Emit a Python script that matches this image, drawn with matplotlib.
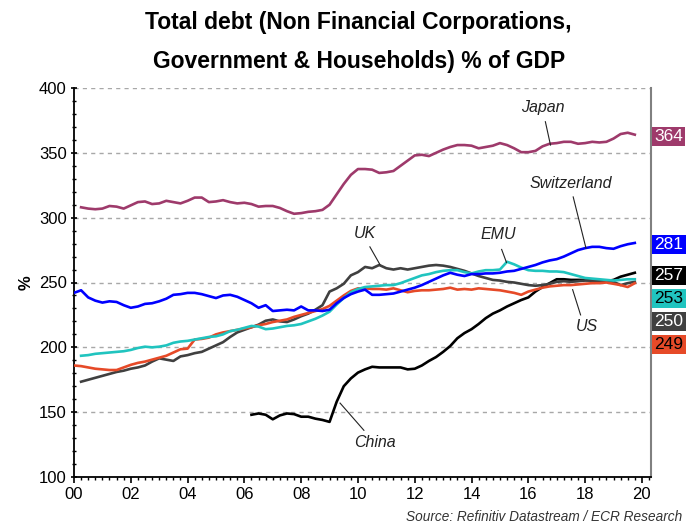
import numpy as np
import pandas as pd
import matplotlib
matplotlib.use('Agg')
import matplotlib.pyplot as plt
from matplotlib.ticker import MultipleLocator
import matplotlib.transforms as mtransforms

plt.rcParams['font.family'] = ['Liberation Sans', 'DejaVu Sans']

# quarterly debt % of GDP
japan_start = '2000Q2'
japan = [308, 307, 306.5, 307, 309, 308.5, 307, 309.5, 312, 312.5, 310.5, 311, 313, 312, 311, 313,
         315.5, 315.5, 312, 312.5, 313.5, 312, 311, 311.5, 310.5, 308.5, 309, 309, 307.5, 305, 303, 303.5,
         304.5, 305, 306, 310, 318, 326, 333, 337.5, 337.5, 337, 334.5, 335, 336, 340, 344, 348,
         348.5, 347.5, 350, 352.5, 354.5, 356, 356, 355.5, 353.5, 354.5, 355.5, 357.5, 356, 353.5, 350.5, 350.5,
         351.5, 355, 357, 357.5, 358.5, 358.5, 357, 357.5, 358.5, 358, 358.5, 361, 364.5, 365.5, 364]

swiss_start = '2000Q1'
swiss = [242, 244, 238.5, 236, 234.5, 235.5, 235, 232.5, 230.5, 231.5, 233.5, 234, 235.5, 237.5, 240.5, 241,
         242, 242, 241, 239.5, 238, 240, 240.5, 239, 236.5, 234, 230.5, 232.5, 228, 228.5, 229, 228.5,
         231.5, 228.5, 228.5, 228, 229, 234, 238, 241, 243, 244.5, 240.5, 240.5, 241, 241.5, 243, 244.5,
         246, 248, 250.5, 253, 255.5, 257.5, 256, 255, 256.5, 256.5, 257, 257, 257.5, 258.5, 259, 260.5,
         262, 263.5, 265.5, 267, 268, 270, 272.5, 275, 276.5, 277.5, 277.5, 276.5, 276, 278, 279.5, 280.5]

emu_start = '2000Q2'
emu = [193.5, 194, 195, 195.5, 196, 196.5, 197, 198, 199.5, 200.5, 200, 200.5, 201.5, 203.5, 204.5, 205,
       206, 207, 208, 208.5, 210, 212.5, 213.5, 215, 216.5, 216, 214, 214.5, 215.5, 216.5, 217, 218,
       220, 222, 224.5, 227.5, 233, 238, 242.5, 245, 246.5, 247, 247.5, 248, 248, 249.5, 251.5, 253.5,
       255.5, 256.5, 258, 259, 259.5, 259.5, 258, 257, 258.5, 259.5, 259.5, 260, 266, 264, 261.5, 259.5,
       259, 259, 258.5, 258.5, 258, 256.5, 255, 253.5, 253, 252.5, 252, 251.5, 252, 252.5, 252.5]

uk_start = '2000Q2'
uk = [173.5, 175, 176.5, 178, 179.5, 181, 182, 183.5, 184.5, 186, 189, 191.5, 190.5, 189.5, 193, 194,
      195.5, 196.5, 199, 201.5, 204, 208, 211.5, 213.5, 215.5, 217.5, 220.5, 221.5, 220, 219.5, 221.5, 224,
      226, 229, 232.5, 243, 245.5, 249, 255.5, 258, 262, 261, 263.5, 261, 260, 261, 260, 261,
      262, 263, 263.5, 263, 262, 260.5, 259, 257, 255, 253.5, 252, 251.5, 250.5, 250, 249, 248,
      247.5, 248, 249, 250.5, 251, 250.5, 251, 251.5, 251.5, 251.5, 251, 250.5, 248, 249.5, 250.5]

us_start = '2000Q1'
us = [186, 185.5, 184.5, 183.5, 183, 182.5, 182.5, 184.5, 186.5, 188, 189, 190.5, 192, 193.5, 196, 198.5,
      199, 206, 206.5, 207.5, 210, 211.5, 212.5, 213.5, 214.5, 215.5, 217, 218, 219.5, 220.5, 221.5, 223.5,
      225, 226.5, 228, 229.5, 232, 236, 240, 243.5, 245.5, 245.5, 245, 245, 244.5, 245.5, 244, 242.5,
      243.5, 244, 244, 244.5, 245, 246, 244.5, 245, 244.5, 245.5, 245, 244.5, 244, 243, 242, 240.5,
      243, 244.5, 246, 247, 247.5, 248, 248, 248.5, 249, 249.5, 249.5, 250, 249, 248, 246.5, 249.5]

china_start = '2006Q2'
china = [148, 149, 148, 144.5, 147.5, 149, 148.5, 146.5, 146.5, 145, 144, 142.5, 158, 170, 176, 180.5,
         183, 185, 184.5, 184.5, 184.5, 184.5, 183, 183.5, 186, 189.5, 192.5, 196.5, 201, 207, 211, 214,
         218, 222.5, 226, 228.5, 231.5, 234, 236.5, 238.5, 243, 246.5, 249.5, 252.5, 252.5, 252, 252, 252,
         251.5, 251.5, 251, 252, 254.5, 256, 257.5]

# latest values shown in the boxes on the right
end_values = [364, 281, 257, 253, 250, 249]
end_colors = ['#9E3A6B', '#0000FF', '#000000', '#20C4BF', '#404040', '#E64A28']
end_text = ['white', 'white', 'white', 'black', 'white', 'black']


def quarter_x(start, values):
    p = pd.period_range(start, periods=len(values), freq='Q')
    return (p.year - 2000) + (p.quarter - 1) / 4


fig = plt.figure(figsize=(6.86, 5.24), dpi=100)
ax = fig.add_axes([74 / 686, 1 - 477 / 524, 577 / 686, 389 / 524])

lw = 1.9
ax.plot(quarter_x(japan_start, japan), japan, color='#9E3A6B', lw=lw, zorder=3)
ax.plot(quarter_x(china_start, china), china, color='#000000', lw=lw, zorder=3)
ax.plot(quarter_x(uk_start, uk), uk, color='#404040', lw=lw, zorder=3)
ax.plot(quarter_x(us_start, us), us, color='#E64A28', lw=lw, zorder=3)
ax.plot(quarter_x(emu_start, emu), emu, color='#20C4BF', lw=lw, zorder=3)
ax.plot(quarter_x(swiss_start, swiss), swiss, color='#0000FF', lw=lw, zorder=3)

ax.set_xlim(0, 20.32)
ax.set_ylim(100, 400)
ax.set_xticks(range(0, 21, 2))
ax.set_xticklabels([f'{y:02d}' for y in range(0, 21, 2)])
ax.set_yticks(range(100, 401, 50))
ax.xaxis.set_minor_locator(MultipleLocator(0.25))
ax.yaxis.set_minor_locator(MultipleLocator(10))
ax.tick_params(axis='both', which='major', labelsize=12, length=4.5, width=1.2, colors='black', pad=3)
ax.tick_params(axis='both', which='minor', length=2.5, width=1)
ax.tick_params(axis='y', which='both', direction='inout')
ax.grid(axis='y', which='major', ls=(0, (3, 3)), color='#A8A8A8', lw=1)

ax.spines['top'].set_visible(False)
ax.spines['left'].set_linewidth(1.3)
ax.spines['bottom'].set_linewidth(1.3)
ax.spines['right'].set_color('#808080')
ax.spines['right'].set_linewidth(1.5)

ax.set_ylabel('%', fontsize=12, fontweight='bold', labelpad=4)

# series labels with leader lines
notes = [('Japan', (16.5, 385), (16.6, 374), (16.78, 356)),
         ('Switzerland', (17.5, 326), (17.58, 316), (18.03, 276.5)),
         ('UK', (10.25, 288), (10.42, 277.5), (10.77, 264)),
         ('EMU', (14.93, 287), (15.06, 275.5), (15.23, 265.5)),
         ('US', (18.05, 216), (17.56, 244.5), (17.84, 225)),
         ('China', (10.6, 126.5), (9.37, 157), (10.21, 136))]
for name, txt, p0, p1 in notes:
    ax.text(*txt, name, fontsize=11.5, style='italic', ha='center', va='center', color='#222222')
    ax.plot([p0[0], p1[0]], [p0[1], p1[1]], color='#222222', lw=0.8, zorder=4)

# value boxes, pushed down so they do not overlap
trans = mtransforms.blended_transform_factory(ax.transAxes, ax.transData)
gap = 17.7
pos = []
for v in end_values:
    y = v - 1.5
    if pos and pos[-1] - y < gap:
        y = pos[-1] - gap
    pos.append(y)
for v, y, c, tc in zip(end_values, pos, end_colors, end_text):
    ax.text(1.006, y, str(v), transform=trans, fontsize=12.5, color=tc, ha='left', va='center',
            clip_on=False, bbox=dict(boxstyle='square,pad=0.12', fc=c, ec='none'))

fig.text(0.523, 0.958, 'Total debt (Non Financial Corporations,', ha='center', va='center',
         fontsize=16.5, fontweight='bold')
fig.text(0.523, 0.883, 'Government & Households) % of GDP', ha='center', va='center',
         fontsize=16.5, fontweight='bold')
fig.text(0.995, 0.0, 'Source: Refinitiv Datastream / ECR Research', ha='right', va='bottom',
         fontsize=9.8, style='italic', color='#333333')

fig.savefig('out.png', dpi=100)
